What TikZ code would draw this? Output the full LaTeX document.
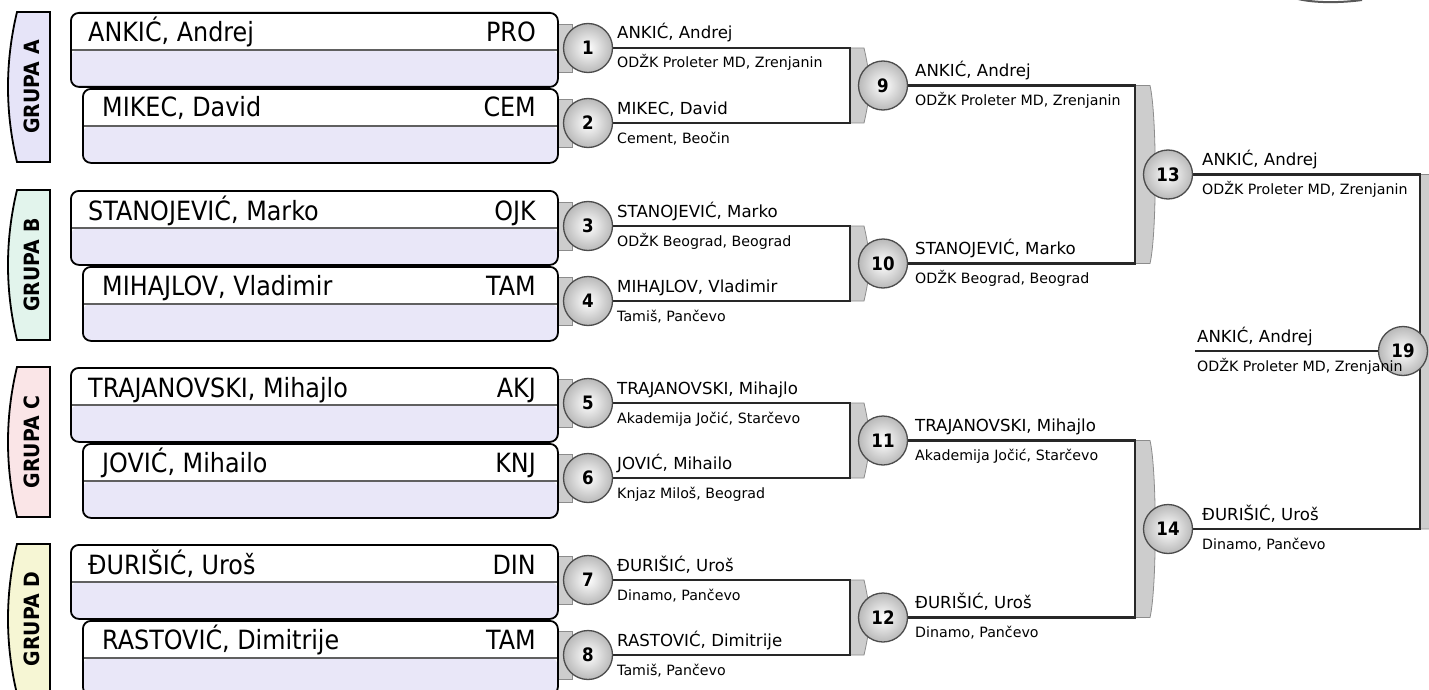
\documentclass[tikz,border=0pt]{standalone}
\usepackage{fontspec}
\setmainfont{DejaVu Sans}
\newfontfamily\condfont{DejaVu Sans}[FakeStretch=0.9]
\definecolor{lav}{RGB}{233,231,248}
\definecolor{tabA}{RGB}{230,228,248}
\definecolor{tabB}{RGB}{226,244,236}
\definecolor{tabC}{RGB}{250,229,231}
\definecolor{tabD}{RGB}{246,246,212}
\definecolor{ink}{RGB}{40,40,40}
\definecolor{brk}{RGB}{205,205,205}
\definecolor{brkline}{RGB}{140,140,140}
\pgfdeclarelayer{bg}
\pgfsetlayers{bg,main}
\tikzset{
  pbox/.style={draw=black, line width=1.8pt, rounded corners=8pt, fill=white,
    minimum height=74pt, anchor=north west, inner sep=0pt,
    path picture={\fill[lav] (path picture bounding box.west) rectangle (path picture bounding box.south east);
      \draw[line width=1.3pt, gray!75!black] (path picture bounding box.west) -- (path picture bounding box.east);}},
  bigname/.style={inner sep=0pt, font=\condfont\fontsize{26.5}{30}\selectfont},
  grplabel/.style={inner sep=0pt, rotate=90, font=\condfont\bfseries\fontsize{21}{24}\selectfont},
  mcirc/.style={circle, minimum size=49pt, inner sep=0pt, draw=gray!60!black, line width=1.3pt,
    shading=radial, inner color=white, outer color=gray!55, font=\condfont\bfseries\fontsize{18.5}{20}\selectfont},
  sname/.style={inner sep=0pt, anchor=base west, font=\fontsize{16.6}{18}\selectfont},
  sclub/.style={inner sep=0pt, anchor=base west, font=\fontsize{14.2}{16}\selectfont},
  conn/.style={draw=ink, line width=2.4pt},
  brkshape/.style={fill=brk, draw=brkline, line width=0.8pt},
}
\newcommand\grouptab[3]{%
  \draw[line width=1.8pt, fill=#3] (50,#1) -- (17,#1) .. controls (5,#1+50) and (5,#1+100) .. (17,#1+150) -- (50,#1+150) -- cycle;
  \node[grplabel] (g#2) at (32,#1+75) {GRUPA #2};
}
\newcommand\players[6]{%
  \node[pbox, minimum width=487pt] (p#2a) at (70,#1) {};
  \node[bigname, anchor=base west] (n#2a) at (88,#1+30) {#3};
  \node[bigname, anchor=base east] (a#2a) at (536,#1+30) {#4};
  \node[pbox, minimum width=475pt] (p#2b) at (82,#1+76) {};
  \node[bigname, anchor=base west] (n#2b) at (102,#1+105) {#5};
  \node[bigname, anchor=base east] (a#2b) at (536,#1+105) {#6};
}
\newcommand\reslabel[5]{%
  \node[sname] (r#1n) at (#2,#3-9) {#4};
  \node[sclub] (r#1c) at (#2,#3+20) {#5};
}
\newcommand\rtab[1]{\path[brkshape] (558,#1-24) rectangle (572,#1+24);}
\newcommand\bracket[4]{%
  \path[brkshape] (#1,#2) -- (#1+#4,#2) .. controls (#1+#4+7,#2+30) and (#1+#4+7,#3-30) .. (#1+#4,#3) -- (#1,#3) -- cycle;
}
\begin{document}
\begin{tikzpicture}[x=1pt,y=-1pt]
\useasboundingbox (0,0) rectangle (1429,690);
% group tabs
\grouptab{12}{A}{tabA}
\grouptab{190}{B}{tabB}
\grouptab{367}{C}{tabC}
\grouptab{544}{D}{tabD}
% player boxes
\players{12}{A}{ANKIĆ, Andrej}{PRO}{MIKEC, David}{CEM}
\players{190}{B}{STANOJEVIĆ, Marko}{OJK}{MIHAJLOV, Vladimir}{TAM}
\players{367}{C}{TRAJANOVSKI, Mihajlo}{AKJ}{JOVIĆ, Mihailo}{KNJ}
\players{544}{D}{ĐURIŠIĆ, Uroš}{DIN}{RASTOVIĆ, Dimitrije}{TAM}
% match circles
\node[mcirc] (m1) at (588,48) {1};
\node[mcirc] (m2) at (588,123) {2};
\node[mcirc] (m3) at (588,226) {3};
\node[mcirc] (m4) at (588,301) {4};
\node[mcirc] (m5) at (588,403) {5};
\node[mcirc] (m6) at (588,478) {6};
\node[mcirc] (m7) at (588,580) {7};
\node[mcirc] (m8) at (588,655) {8};
\node[mcirc] (m9) at (883,85.5) {9};
\node[mcirc] (m10) at (883,263.5) {10};
\node[mcirc] (m11) at (883,440.5) {11};
\node[mcirc] (m12) at (883,617.5) {12};
\node[mcirc] (m13) at (1168,174.5) {13};
\node[mcirc] (m14) at (1168,529) {14};
\node[mcirc] (m19) at (1403,351) {19};
% coordinates
\coordinate (k1) at (850,48);
\coordinate (k3) at (850,226);
\coordinate (k5) at (850,403);
\coordinate (k7) at (850,580);
\coordinate (k9) at (1135,85.5);
\coordinate (k11) at (1135,440.5);
\coordinate (k13) at (1420,174.5);
\coordinate (f0) at (1195,351);
\begin{pgfonlayer}{bg}
  \rtab{48}\rtab{123}\rtab{226}\rtab{301}\rtab{403}\rtab{478}\rtab{580}\rtab{655}
  \bracket{850}{48}{123}{14}
  \bracket{850}{226}{301}{14}
  \bracket{850}{403}{478}{14}
  \bracket{850}{580}{655}{14}
  \bracket{1135}{85.5}{263.5}{15}
  \bracket{1135}{440.5}{617.5}{15}
  \bracket{1420}{174.5}{529}{14}
  \draw[conn] (m1) -- (k1) |- (m2);
  \draw[conn] (m3) -- (k3) |- (m4);
  \draw[conn] (m5) -- (k5) |- (m6);
  \draw[conn] (m7) -- (k7) |- (m8);
  \draw[conn] (m9) -- (k9) |- (m10);
  \draw[conn] (m11) -- (k11) |- (m12);
  \draw[conn] (m13) -- (k13) |- (m14);
  \draw[conn] (f0) -- (m19);
  \draw[line width=2pt, gray!70!black] (1298,-1) .. controls (1315,3) and (1340,3) .. (1362,0);
\end{pgfonlayer}
% result labels
\reslabel{1}{617}{48}{ANKIĆ, Andrej}{ODŽK Proleter MD, Zrenjanin}
\reslabel{2}{617}{123}{MIKEC, David}{Cement, Beočin}
\reslabel{3}{617}{226}{STANOJEVIĆ, Marko}{ODŽK Beograd, Beograd}
\reslabel{4}{617}{301}{MIHAJLOV, Vladimir}{Tamiš, Pančevo}
\reslabel{5}{617}{403}{TRAJANOVSKI, Mihajlo}{Akademija Jočić, Starčevo}
\reslabel{6}{617}{478}{JOVIĆ, Mihailo}{Knjaz Miloš, Beograd}
\reslabel{7}{617}{580}{ĐURIŠIĆ, Uroš}{Dinamo, Pančevo}
\reslabel{8}{617}{655}{RASTOVIĆ, Dimitrije}{Tamiš, Pančevo}
\reslabel{9}{915}{85.5}{ANKIĆ, Andrej}{ODŽK Proleter MD, Zrenjanin}
\reslabel{10}{915}{263.5}{STANOJEVIĆ, Marko}{ODŽK Beograd, Beograd}
\reslabel{11}{915}{440.5}{TRAJANOVSKI, Mihajlo}{Akademija Jočić, Starčevo}
\reslabel{12}{915}{617.5}{ĐURIŠIĆ, Uroš}{Dinamo, Pančevo}
\reslabel{13}{1202}{174.5}{ANKIĆ, Andrej}{ODŽK Proleter MD, Zrenjanin}
\reslabel{14}{1202}{529}{ĐURIŠIĆ, Uroš}{Dinamo, Pančevo}
\reslabel{19}{1197}{351}{ANKIĆ, Andrej}{ODŽK Proleter MD, Zrenjanin}
\end{tikzpicture}
\end{document}
